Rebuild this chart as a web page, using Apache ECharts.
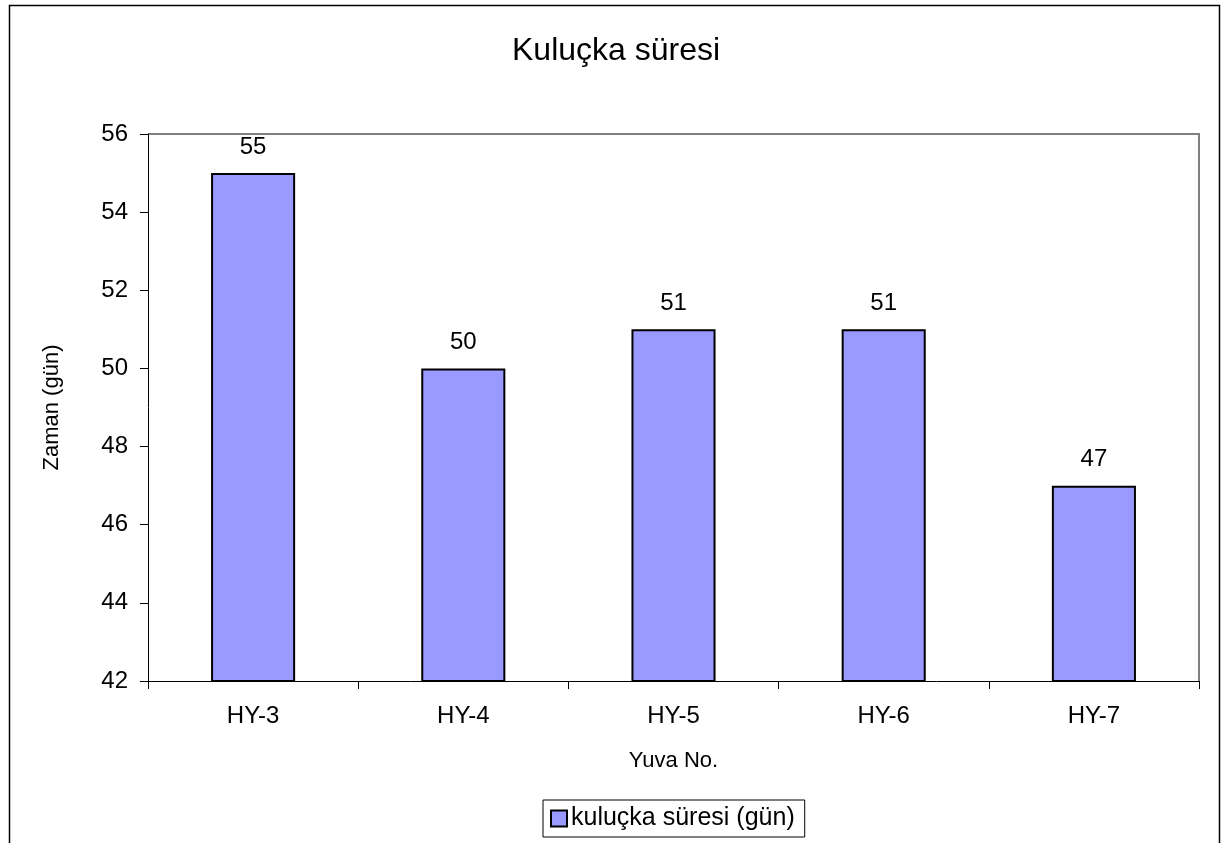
<!DOCTYPE html>
<html>
<head>
<meta charset="utf-8">
<script src="https://cdn.jsdelivr.net/npm/echarts@6/dist/echarts.min.js"></script>
<style>
  html, body { margin: 0; padding: 0; background: #fff; }
  #main { width: 1223px; height: 843px; }
</style>
</head>
<body>
<div id="main"></div>
<script>
  // data
  var categories = ['HY-3', 'HY-4', 'HY-5', 'HY-6', 'HY-7'];
  var durations = [55, 50, 51, 51, 47];
  var yTicks = [42, 44, 46, 48, 50, 52, 54, 56];

  var chart = echarts.init(document.getElementById('main'));
  var font = 'Liberation Sans, Arial, sans-serif';

  chart.setOption({
    animation: false,
    textStyle: { fontFamily: font },
    title: {
      text: 'Kuluçka süresi',
      left: 507,
      top: 30,
      textStyle: { fontSize: 32, fontWeight: 'normal', color: '#000', fontFamily: font }
    },
    legend: {
      bottom: 6,
      left: 543,
      data: [{
        name: 'kuluçka süresi (gün)',
        icon: 'rect',
        itemStyle: { color: '#9999FF', borderColor: '#000', borderWidth: 2 }
      }],
      itemWidth: 16,
      itemHeight: 16,
      padding: [6, 10, 6, 7],
      borderColor: '#000',
      borderWidth: 1,
      borderRadius: 0,
      textStyle: { fontSize: 25, color: '#000', fontFamily: font, padding: [0, 0, 0, -1] }
    },
    grid: { left: 148, right: 24, top: 134, bottom: 162 },
    graphic: [{
      type: 'rect',
      shape: { x: 9.5, y: 5.5, width: 1210, height: 850 },
      style: { fill: 'none', stroke: '#000', lineWidth: 1.5 },
      silent: true
    }, {
      type: 'polyline',
      shape: { points: [[148, 134], [1199, 134], [1199, 681]] },
      style: { fill: 'none', stroke: '#808080', lineWidth: 2 },
      silent: true
    }],
    xAxis: {
      type: 'category',
      data: categories,
      name: 'Yuva No.',
      nameLocation: 'middle',
      nameGap: 69,
      nameTextStyle: { fontSize: 22, color: '#000', fontFamily: font },
      axisLine: { lineStyle: { color: '#000', width: 1 } },
      axisTick: { show: true, length: 8, lineStyle: { color: '#000' } },
      axisLabel: { fontSize: 24, color: '#000', margin: 23, fontFamily: font }
    },
    yAxis: {
      type: 'value',
      min: yTicks[0],
      max: yTicks[yTicks.length - 1],
      interval: 2,
      name: 'Zaman (gün)',
      nameLocation: 'middle',
      nameGap: 85,
      nameTextStyle: { fontSize: 22, color: '#000', fontFamily: font },
      axisLine: { show: true, lineStyle: { color: '#000', width: 1 } },
      axisTick: { show: true, length: 8, lineStyle: { color: '#000' } },
      splitLine: { show: false },
      axisLabel: { fontSize: 24, color: '#000', margin: 20, fontFamily: font }
    },
    series: [{
      name: 'kuluçka süresi (gün)',
      type: 'bar',
      data: durations,
      barWidth: '40%',
      itemStyle: { color: '#9999FF', borderColor: '#000', borderWidth: 2 },
      label: {
        show: true,
        position: 'top',
        distance: 14,
        fontSize: 24,
        color: '#000',
        fontFamily: font
      }
    }]
  });
</script>
</body>
</html>
